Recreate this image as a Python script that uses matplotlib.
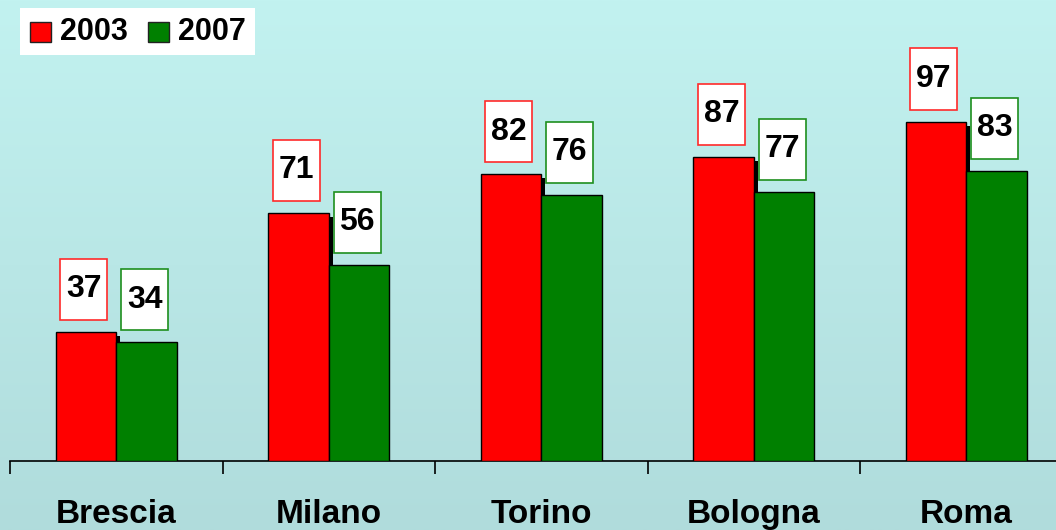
import numpy as np
import matplotlib
matplotlib.use("Agg")
import matplotlib.pyplot as plt
from matplotlib.patches import Rectangle
from matplotlib import patheffects as pe
from matplotlib.colors import LinearSegmentedColormap

categories = ["Brescia", "Milano", "Torino", "Bologna", "Roma"]
series_names = ["2003", "2007"]
values_2003 = [37, 71, 82, 87, 97]
values_2007 = [34, 56, 76, 77, 83]

W, H = 1056, 530
plt.rcParams['font.family'] = ['Liberation Sans', 'DejaVu Sans']
fig = plt.figure(figsize=(W / 100, H / 100), dpi=100)

# background gradient
bg = fig.add_axes([0, 0, 1, 1], zorder=-10)
cmap = LinearSegmentedColormap.from_list("bg", ["#C2F2F0", "#B0DCDC"])
bg.imshow(np.linspace(0, 1, 256).reshape(-1, 1), aspect='auto', cmap=cmap,
          extent=[0, 1, 0, 1], origin='upper')
bg.axis('off')

def fx(x):
    return x / W

def fy(y):
    return 1 - y / H

base_px = 461
left_px = 10
cat_px = 212.5
px_per_unit = 3.5

ax = fig.add_axes([fx(left_px), fy(base_px), 1 - fx(left_px), base_px / H])
ax.set_facecolor('none')
for s in ['top', 'right', 'left']:
    ax.spines[s].set_visible(False)
ax.spines['bottom'].set_linewidth(1.2)
ax.set_yticks([])
ax.set_xticks([])
ax.set_xticks(np.arange(-0.5, 4.0, 1.0), minor=True)
ax.tick_params(axis='x', which='minor', direction='out', length=9, width=1.2, color='black')
ax.tick_params(axis='x', which='major', length=0)

x = np.arange(len(categories))
bw = 0.285
off = 0.1425
r = ax.bar(x - off, values_2003, bw, color='#FF0000', edgecolor='black', linewidth=1.0, zorder=3)
for p in r:
    p.set_path_effects([pe.SimplePatchShadow(offset=(3, -3), shadow_rgbFace='black', alpha=1.0), pe.Normal()])
g = ax.bar(x + off, values_2007, bw, color='#008000', edgecolor='black', linewidth=1.0, zorder=4)

ax.set_xlim(-0.5, -0.5 + (W - left_px) / cat_px)
ax.set_ylim(0, base_px / px_per_unit)

box_w = 47 / cat_px
box_h = 61 / px_per_unit
gap = 12 / px_per_unit
shift = -2 / cat_px
for vals, xs, ec in [(values_2003, x - off, '#FF2A2A'), (values_2007, x + off, '#1E8F1E')]:
    for xc, v in zip(xs, vals):
        cx = xc + shift
        ax.add_patch(Rectangle((cx - box_w / 2, v + gap), box_w, box_h,
                               facecolor='white', edgecolor=ec, linewidth=1.2, zorder=5))
        ax.text(cx, v + gap + box_h / 2, str(v), ha='center', va='center',
                fontsize=23, fontweight='bold', color='black', zorder=6)

for xc, name in zip(x, categories):
    ax.text(xc, -62 / px_per_unit, name, ha='center', va='baseline',
            fontsize=24, fontweight='bold', color='black', clip_on=False)

# legend
fig.patches.append(Rectangle((fx(20), fy(55)), fx(235), 47 / H, transform=fig.transFigure,
                             facecolor='white', edgecolor='none', zorder=1))
leg = [(30, '#FF0000', series_names[0]), (148, '#008000', series_names[1])]
for lx, c, t in leg:
    fig.patches.append(Rectangle((fx(lx), fy(42)), fx(21), 20 / H, transform=fig.transFigure,
                                 facecolor=c, edgecolor='#222222', linewidth=1.0, zorder=2))
    fig.text(fx(lx + 30), fy(32), t, ha='left', va='center', fontsize=22,
             fontweight='bold', color='black', zorder=3)

fig.savefig("out.png", dpi=100)
